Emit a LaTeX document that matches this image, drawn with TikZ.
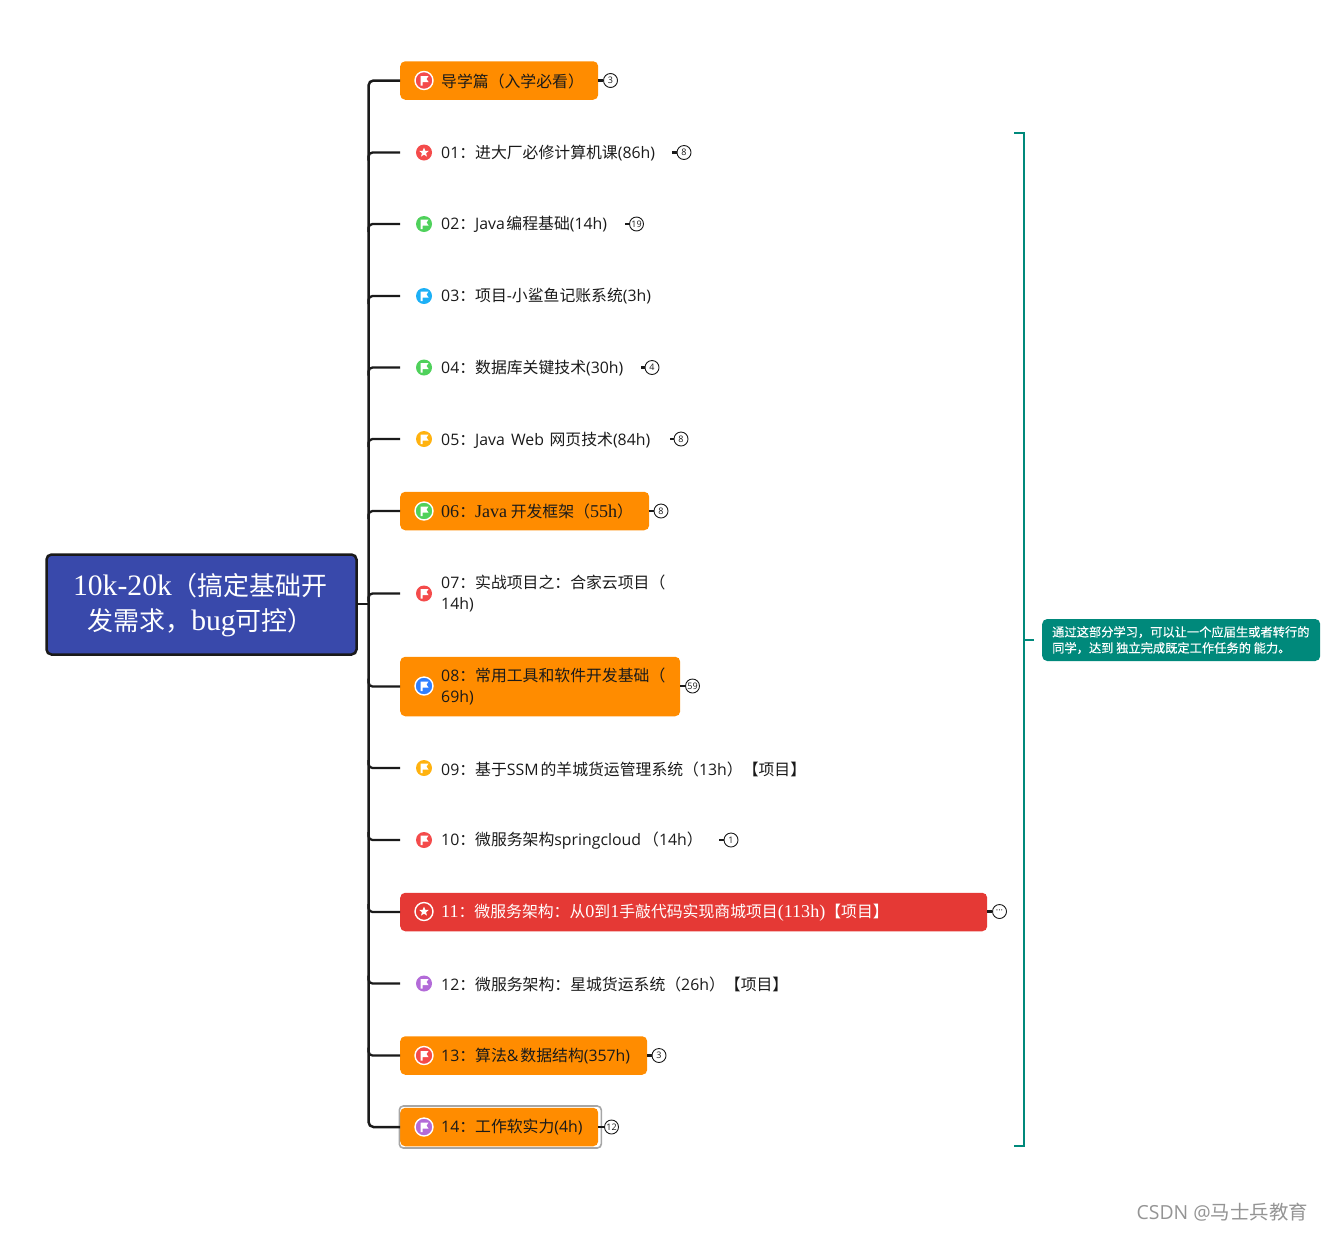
\documentclass[tikz,border=0pt]{standalone}
\usepackage{fontspec}
\usetikzlibrary{shapes.geometric}
\setmainfont{Noto Sans CJK SC}
\newfontfamily\latf{Open Sans}
\newfontfamily\serf[Scale=1.14]{Liberation Serif}
\newfontfamily\notef[FakeBold=0.35]{Noto Sans CJK SC}
\newcommand\la[1]{{\latf #1}}
\newcommand\sr[1]{{\serf #1}}
\definecolor{ink}{HTML}{1A1A1A}
\definecolor{orangebox}{HTML}{FF8C00}
\definecolor{redbox}{HTML}{E53935}
\definecolor{rootfill}{HTML}{3949AB}
\definecolor{teal}{HTML}{00897B}
\definecolor{icred}{HTML}{F44B4B}
\definecolor{icgreen}{HTML}{4FD15B}
\definecolor{icsky}{HTML}{1CB0F6}
\definecolor{icblue}{HTML}{2F7FFF}
\definecolor{icyellow}{HTML}{FFB20F}
\definecolor{icpurple}{HTML}{B36BD8}
\tikzset{
  x=1pt,y=-1pt,
  trunkline/.style={draw=ink,line width=2.5pt,rounded corners=5pt},
  stub/.style={draw=ink,line width=2.3pt},
  itembox/.style={anchor=west,inner sep=0pt,minimum height=#1,rounded corners=5pt,fill=orangebox},
  plainbox/.style={anchor=west,inner sep=0pt,minimum height=20pt},
  label/.style={anchor=west,inner sep=0pt,align=left,font=\fontsize{15.85}{21}\selectfont,text=ink},
  count/.style={circle,draw=ink,line width=0.9pt,fill=white,minimum size=14pt,inner sep=0pt,font=\fontsize{9}{9}\selectfont,text=ink},
  iconplain/.style={circle,minimum size=16pt,inner sep=0pt},
  iconring/.style={circle,minimum size=18pt,inner sep=0pt,draw=white,line width=1.4pt},
}
\newcommand\flagicon[4]{%
  \node[#4,fill=#3] (#1) at #2 {};
  \fill[white,shift={#2}] (-3.5,-4.5) -- (4.5,-4.5) -- (2.5,-1.5) -- (4.5,1.5) -- (-1.5,1.5) -- (-1.5,5) -- (-3.5,5) -- cycle;}
\newcommand\staricon[4]{%
  \node[#4,fill=#3] (#1) at #2 {};
  \node[star,star points=5,star point ratio=2.3,fill=white,inner sep=0pt,minimum size=10pt] (#1s) at #2 {};}
\begin{document}
\begin{tikzpicture}
\useasboundingbox (0,0) rectangle (1324,1232);
% root
\node[draw=ink,line width=2.5pt,fill=rootfill,rounded corners=5pt,minimum width=310pt,minimum height=100pt,inner sep=0pt,anchor=center] (root) at (201.5,604.5) {};
\node[align=center,text=white,inner sep=0pt,font=\fontsize{26}{35}\selectfont] (roott) at (200.5,605) {\sr{10k-20k}（搞定基础开\\发需求，\sr{bug}可控）};
% item frames
\node[itembox=38.5pt,minimum width=198pt] (n0) at (400,80.5) {};
\node[plainbox,minimum width=272pt] (n1) at (400,152.5) {};
\node[plainbox,minimum width=225pt] (n2) at (400,224) {};
\node[plainbox,minimum width=260pt] (n3) at (400,296) {};
\node[plainbox,minimum width=241pt] (n4) at (400,367.5) {};
\node[plainbox,minimum width=270pt] (n5) at (400,439) {};
\node[itembox=38.5pt,minimum width=249pt] (n6) at (400,511) {};
\node[plainbox,minimum width=270pt] (n7) at (400,593.5) {};
\node[itembox=59.5pt,minimum width=280pt] (n8) at (400,686.5) {};
\node[plainbox,minimum width=400pt] (n9) at (400,768) {};
\node[plainbox,minimum width=319pt] (n10) at (400,840) {};
\node[itembox=38.5pt,minimum width=587pt,fill=redbox] (n11) at (400,912) {};
\node[plainbox,minimum width=385pt] (n12) at (400,983.5) {};
\node[itembox=38.5pt,minimum width=247pt] (n13) at (400,1055.5) {};
\node[itembox=38.5pt,minimum width=198pt] (n14) at (400,1127) {};
\node[draw=black!35,line width=1.6pt,rounded corners=4pt,fill=none,minimum width=202pt,minimum height=42pt,inner sep=0pt,anchor=west] (sel) at (398.5,1127) {};
% trunk and branches
\coordinate (tk) at (368.5,300);
\draw[trunkline] (n0.west) -| (tk |- n14.west) -- (n14.west);
\coordinate (rootj) at (368.5,604);
\draw[stub] (root.east |- rootj) -- (rootj);
\foreach \i/\d in {1/8,2/8,3/8,4/8,5/8,6/8,7/8,8/-8,9/-8,10/-8,11/-8,12/-8,13/-8}{
  \coordinate (b\i) at ([yshift=-\d pt]tk |- n\i.west);
  \draw[trunkline,line width=2.3pt,rounded corners=4pt] (n\i.west) -- (tk |- n\i.west) -- (b\i);
}
% icons
\flagicon{i0}{(424,80.5)}{icred}{iconring}
\staricon{i1}{(424,152.5)}{icred}{iconplain}
\flagicon{i2}{(424,224)}{icgreen}{iconplain}
\flagicon{i3}{(424,296)}{icsky}{iconplain}
\flagicon{i4}{(424,367.5)}{icgreen}{iconplain}
\flagicon{i5}{(424,439)}{icyellow}{iconplain}
\flagicon{i6}{(424,511)}{icgreen}{iconring}
\flagicon{i7}{(424,593.5)}{icred}{iconplain}
\flagicon{i8}{(424,686)}{icblue}{iconring}
\flagicon{i9}{(424,768)}{icyellow}{iconplain}
\flagicon{i10}{(424,840)}{icred}{iconplain}
\staricon{i11}{(424,911.5)}{redbox}{iconring}
\flagicon{i12}{(424,983.5)}{icpurple}{iconplain}
\flagicon{i13}{(424,1055.5)}{icred}{iconring}
\flagicon{i14}{(424,1127)}{icpurple}{iconring}
% labels
\node[label] (t0) at (441,81) {导学篇（入学必看）};
\node[label] (t1) at (441,153) {\la{01}：进大厂必修计算机课\la{(86h)}};
\node[label] (t2) at (441,224.5) {\la{02}：\la{Java\hspace{1.5pt}}编程基础\la{(14h)}};
\node[label] (t3) at (441,296.5) {\la{03}：项目\la{-}小鲨鱼记账系统\la{(3h)}};
\node[label] (t4) at (441,368) {\la{04}：数据库关键技术\la{(30h)}};
\node[label] (t5) at (441,440) {\la{05}：\la{Java\hspace{2pt} Web\hspace{2pt}} 网页技术\la{(84h)}};
\node[label] (t6) at (441,511.5) {\sr{06}：\sr{Java} 开发框架（\sr{55h}）};
\node[label] (t7) at (441,593.5) {\la{07}：实战项目之：合家云项目（\\\la{14h)}};
\node[label] (t8) at (441,686.5) {\la{08}：常用工具和软件开发基础（\\\la{69h)}};
\node[label] (t9) at (441,769) {\la{09}：基于\la{SSM\hspace{2pt}}的羊城货运管理系统（\la{13h}）【项目】};
\node[label] (t10) at (441,840.5) {\la{10}：微服务架构\la{springcloud\hspace{2pt}}（\la{14h}）};
\node[label,text=white] (t11) at (441,912.5) {\sr{11}：微服务架构：从\sr{0}到\sr{1}手敲代码实现商城项目\sr{(113h)}【项目】};
\node[label] (t12) at (441,984.5) {\la{12}：微服务架构：星城货运系统（\la{26h}）【项目】};
\node[label] (t13) at (441,1056) {\la{13}：算法\la{\&\hspace{2pt}}数据结构\la{(357h)}};
\node[label] (t14) at (441,1127.5) {\la{14}：工作软实力\la{(4h)}};
% collapse counters
\node[count] (c0) at (610.5,80.5) {\la{3}};
\node[count] (c1) at (684,152.5) {\la{8}};
\node[count] (c2) at (636.5,224) {\la{19}};
\node[count] (c4) at (652,367.5) {\la{4}};
\node[count] (c5) at (681,439) {\la{8}};
\node[count] (c6) at (661,511) {\la{8}};
\node[count] (c8) at (692.5,686) {\la{59}};
\node[count] (c10) at (731,840) {\la{1}};
\node[count] (c11) at (999.5,911.5) {\la{···}};
\node[count] (c13) at (659,1055.5) {\la{3}};
\node[count] (c14) at (611.5,1127) {\la{12}};
\foreach \i in {0,1,2,4,5,6,8,10,11,13,14}{
  \draw[stub] (n\i.east |- c\i) -- (c\i.west);
}
% summary bracket
\coordinate (brt) at (1014,133);
\coordinate (brb) at (1014,1146);
\coordinate (brv) at (1024,640);
\coordinate (brs) at (1034,640);
\draw[teal,line width=1.8pt] (brt) -- (brv |- brt) -- (brv |- brb) -- (brb);
\draw[teal,line width=1.8pt] (brv) -- (brs);
\node[anchor=west,fill=teal,rounded corners=5pt,minimum width=278pt,minimum height=42pt,inner sep=0pt] (note) at (1042,640) {};
\node[anchor=west,inner sep=0pt,align=left,text=white,font=\fontsize{12.25}{16}\notef] (notet) at (1052,640) {通过这部分学习，可以让一个应届生或者转行的\\同学，达到 独立完成既定工作任务的 能力。};
% watermark
\node[anchor=east,inner sep=0pt,text=black!42,font=\fontsize{19.4}{24}\selectfont] (wm) at (1308,1212) {\la{CSDN @}马士兵教育};
\end{tikzpicture}
\end{document}
